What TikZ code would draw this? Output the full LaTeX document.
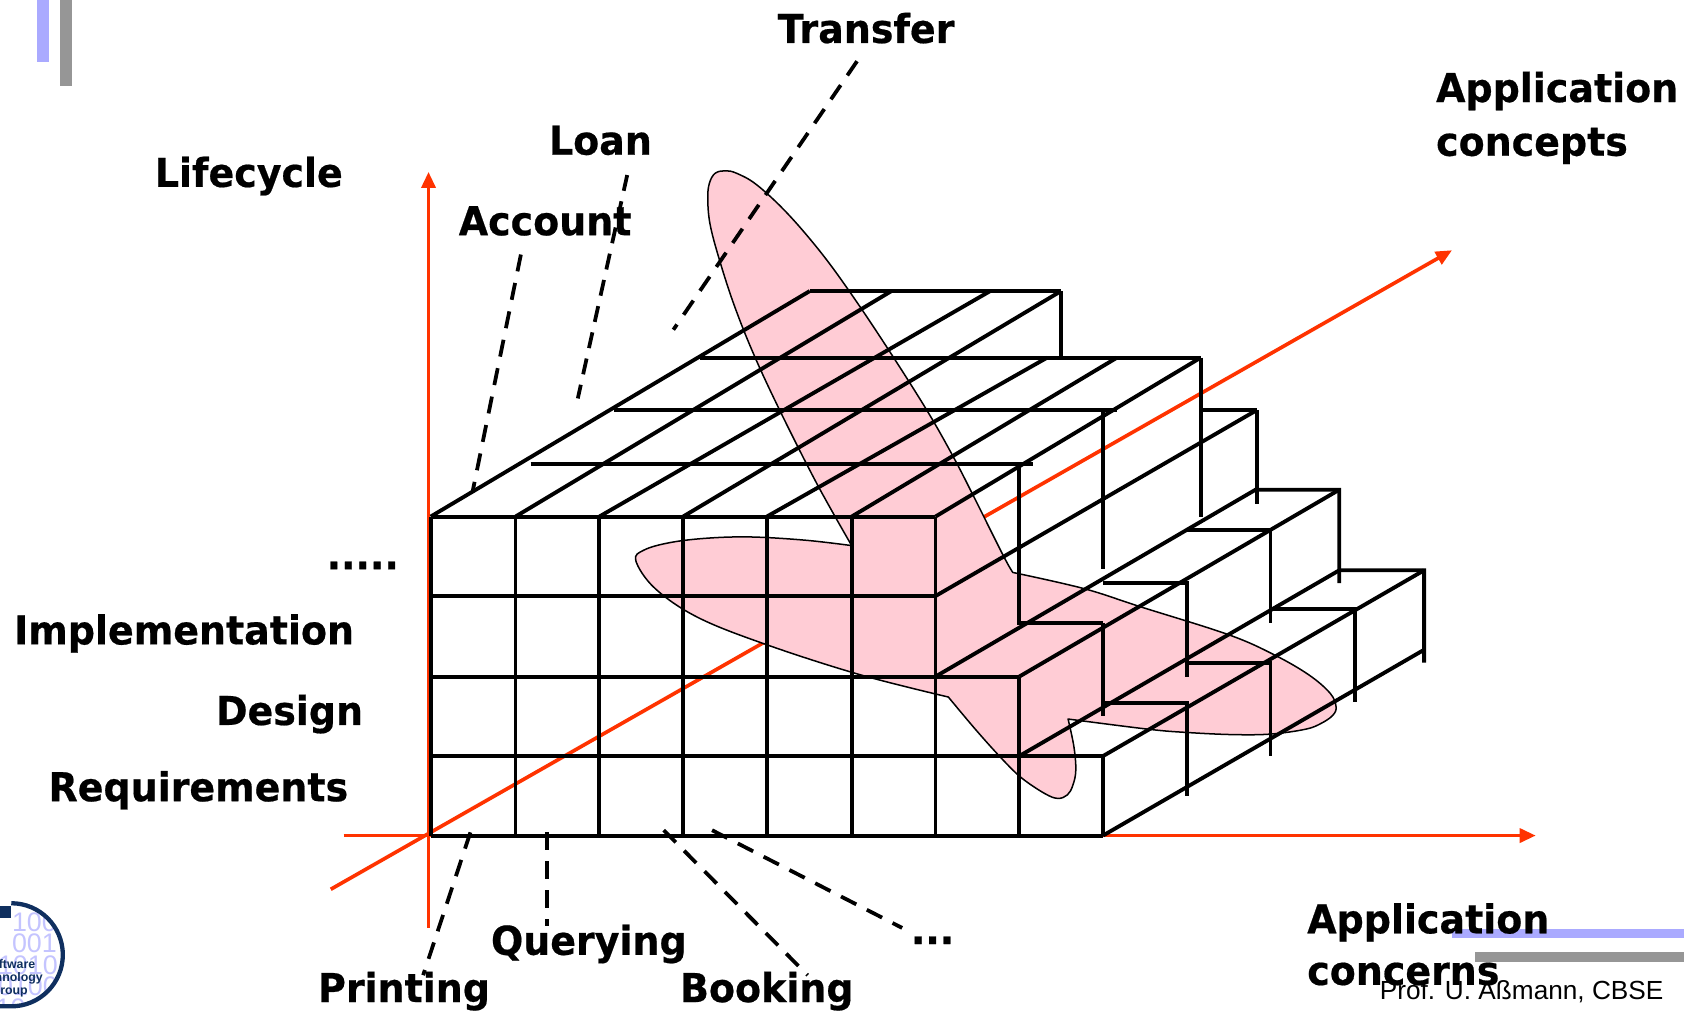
\documentclass[tikz,border=0pt]{standalone}
\usepackage{fontspec}
\usetikzlibrary{arrows.meta}
\newfontfamily\labboldfont{DejaVu Sans Bold}[FakeStretch=0.955,FakeBold=0.5]
\newfontfamily\arialfont{Liberation Sans}
\definecolor{axisred}{HTML}{FF3300}
\definecolor{petal}{HTML}{FFCCD5}
\definecolor{decoblue}{HTML}{AAAAFF}
\definecolor{decogray}{HTML}{969696}
\definecolor{navy}{HTML}{0F2F5F}
\definecolor{digit}{HTML}{C4C4FF}
\tikzset{
  x=1pt,y=-1pt,
  lab/.style={anchor=base west,inner sep=0pt,font=\labboldfont\fontsize{37}{37}\selectfont,text=black},
  grid/.style={draw=black,line width=3.6pt,line cap=butt,line join=miter},
  axis/.style={draw=axisred,line width=3.4pt,-{Triangle[length=15pt,width=13pt]}},
  dashline/.style={draw=black,line width=3.5pt,dash pattern=on 16pt off 11pt},
  blob/.style={draw=black,fill=petal,line width=1.4pt,line join=round},
  digits/.style={inner sep=0pt,text=digit,font=\arialfont\fontsize{25}{25}\selectfont},
  logotext/.style={inner sep=0pt,anchor=base east,text=navy,font=\arialfont\bfseries\fontsize{11.5}{11.5}\selectfont}
}
\begin{document}
\begin{tikzpicture}
\useasboundingbox (0,0) rectangle (1568,942);
% slide decoration
\fill[decoblue] (34,0) rectangle (46,58);
\fill[decogray] (56,0) rectangle (67,80);
\fill[decoblue] (1352,865) rectangle (1568,873.5);
\fill[decogray] (1373,886) rectangle (1568,895.5);
% logo
\begin{scope}
\clip (0,840.5) rectangle (60,937.5);
\begin{scope}
\clip (10.5,889) circle (47);
\node[digits,anchor=base west] (d1) at (11,867) {100};
\node[digits,anchor=base west] (d2) at (11,887) {001};
\node[digits,anchor=base east] (d3) at (54,907) {1010};
\node[digits,anchor=base east] (d4) at (54,927) {0100};
\node[digits,anchor=base east] (d5) at (24,947) {10};
\end{scope}
\node[logotext] (l1) at (33,902) {Software};
\node[logotext] (l2) at (40,914) {Technology};
\node[logotext] (l3) at (26,926) {Group};
\end{scope}
\fill[navy] (0,844) rectangle (10,855);
\draw[navy,line width=4pt] (10.5,841) arc[start angle=-90,end angle=90,radius=48] -- +(-10.5,0);
% axes
\coordinate (o1) at (399,864); \coordinate (o2) at (399,160);
\coordinate (h1) at (320,778); \coordinate (h2) at (1430,778);
\coordinate (k1) at (308,828); \coordinate (k2) at (1352,233);
\draw[axis] (o1) -- (o2);
\draw[axis] (h1) -- (h2);
\draw[axis] (k1) -- (k2);
% pink shape
\path[blob]
  plot[smooth,tension=.6] coordinates {(793,508)(760.4,450)(726,382)(701.4,329)(683,282.5)(669,239)(661,208)(659,184.7)(660.5,170.7)(665.8,161.4)(675.4,159)(686,161.4)(704.5,172)(732.5,198)(763.5,234)(791.4,272)(825.6,323)(863,382)(887.6,425.3)(906,461)(934,517)(943,533)}
  -- plot[smooth,tension=.6] coordinates {(943,533)(1009,548)(1062,565)(1144,591)(1187,610)(1219,628.6)(1238.6,645.6)(1244,658)(1241,666)(1230,673.6)(1215.5,679)(1183.4,683.5)(1148,684)(1105,682)(1069.4,679)(994.5,669.5)}
  -- plot[smooth,tension=.6] coordinates {(994.5,669.5)(999.9,695)(1001.7,717)(999,731)(994,740)(985,743.4)(973,739)(951.8,724.8)(934,707.7)(909,680)(883,649)}
  -- plot[smooth,tension=.6] coordinates {(883,649)(800,628)(713,600)(650,575)(610,548)(592,522)(600,512)(625,505)(660,501)(700,500)(750,503)(793,508)}
  -- cycle;
% front grid
\foreach \yy/\xe in {481/871,555/871,630/949,704/1027,778/1027}
  \draw[grid] (401,\yy) -- (\xe,\yy);
\foreach \xx/\ya in {401/481,480/481,558/481,636/481,714/481,793/481,871/481,949/630,1027/704}
  \draw[grid] (\xx,\ya) -- (\xx,778);
% top surface
\foreach \x/\ya/\xb/\xc in {494/432/962/0,572/382/1040/0,652/333/1118/0,754/271/988/0}
  \draw[grid] (\x,\ya) -- (\xb,\ya);
\draw[grid] (401,481) -- (754,271);
\draw[grid] (480,481) -- (830,271);
\draw[grid] (558,481) -- (922,271);
\draw[grid] (636,481) -- (988,271);
\draw[grid] (714,481) -- (975,333);
\draw[grid] (793,481) -- (1040,333);
\draw[grid] (871,481) -- (1118,333);
\draw[grid] (871,555) -- (1170,382);
\draw[grid] (1118,382) -- (1170,382);
% back verticals
\draw[grid] (988,271) -- (988,333);
\draw[grid] (949,432) -- (949,580) -- (1027,580);
\draw[grid] (1027,382) -- (1027,530);
\draw[grid] (1118,333) -- (1118,481);
\draw[grid] (1170,382) -- (1170,469);
% stairs
\draw[grid] (871,630) -- (1169,456) -- (1247,456) -- (1247,543);
\draw[grid] (949,630) -- (1247,456);
\draw[grid] (1105,493.5) -- (1183,493.5) -- (1183,580);
\draw[grid] (1027,543) -- (1105,543) -- (1105,630);
\draw[grid] (1027,580) -- (1027,667);
\draw[grid] (949,630) -- (949,704);
\draw[grid] (949,704) -- (1247,531) -- (1326,531) -- (1326,617);
\draw[grid] (1027,704) -- (1326,531);
\draw[grid] (1183,567) -- (1262,567) -- (1262,654);
\draw[grid] (1105,617.5) -- (1183,617.5) -- (1183,704);
\draw[grid] (1027,654.5) -- (1105,654.5) -- (1105,741);
\draw[grid] (1027,778) -- (1326,605);
% labels
\node[lab] (transfer) at (724,40) {Transfer};
\node[lab] (loan) at (511,144) {Loan};
\node[lab] (account) at (427,219) {Account};
\node[lab] (lifecycle) at (144,174) {Lifecycle};
\node[lab] (appa) at (1337,95) {Application};
\node[lab] (appb) at (1337,145) {concepts};
\node[lab] (dots1) at (304,530) {.....};
\node[lab] (impl) at (13,600) {Implementation};
\node[lab] (design) at (201,675) {Design};
\node[lab] (req) at (45,746) {Requirements};
\node[lab] (query) at (457,889) {Querying};
\node[lab] (print) at (296,933) {Printing};
\node[lab] (book) at (633,933) {Booking};
\node[lab] (dots2) at (848,879) {...};
\node[lab] (ca) at (1217,869) {Application};
\node[lab] (cb) at (1217,917) {concerns};
\node[anchor=base east,inner sep=0pt,font=\arialfont\fontsize{24.4}{24.4}\selectfont] (prof) at (1549,931) {Prof. U. Aßmann, CBSE};
% dashed leaders
\coordinate (t1) at (798,57); \coordinate (t2) at (627,307);
\coordinate (n1) at (584,163); \coordinate (n2) at (538,371);
\coordinate (a1) at (485,237); \coordinate (a2) at (440,458);
\coordinate (p1) at (438,775); \coordinate (p2) at (394,908);
\coordinate (q1) at (509,775); \coordinate (q2) at (509,862);
\coordinate (b1) at (618,773); \coordinate (b2) at (752,908);
\coordinate (e1) at (663,773); \coordinate (e2) at (840,864);
\draw[dashline] (t1) -- (t2);
\draw[dashline,dash pattern=on 15pt off 10pt] (n1) -- (n2);
\draw[dashline] (a1) -- (a2);
\draw[dashline] (p1) -- (p2);
\draw[dashline] (q1) -- (q2);
\draw[dashline] (b1) -- (b2);
\draw[dashline] (e1) -- (e2);
\end{tikzpicture}
\end{document}
